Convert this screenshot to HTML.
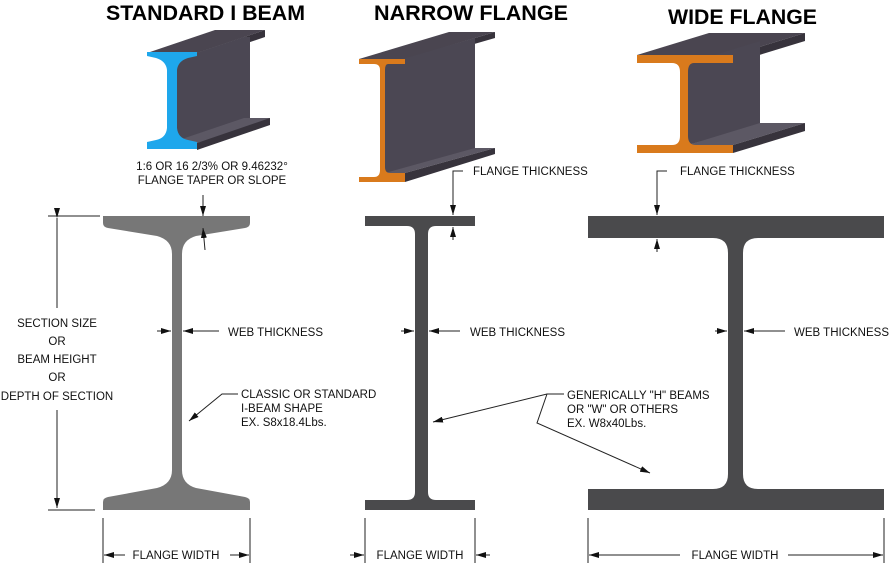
<!DOCTYPE html>
<html><head><style>html,body{margin:0;padding:0;background:#fff}svg{display:block}text{font-family:"Liberation Sans",sans-serif}</style></head><body>
<svg width="891" height="569" viewBox="0 0 891 569" xmlns="http://www.w3.org/2000/svg">
<defs>
<marker id="a" viewBox="0 0 10 6" refX="10" refY="3" markerWidth="10" markerHeight="6" orient="auto" markerUnits="userSpaceOnUse"><path d="M0,0 L10,3 L0,6 Z" fill="#111"/></marker>
</defs>
<g font-weight="bold" font-size="21" fill="#000">
<text x="106" y="20" textLength="199" lengthAdjust="spacingAndGlyphs">STANDARD I BEAM</text>
<text x="374" y="20" textLength="194" lengthAdjust="spacingAndGlyphs">NARROW FLANGE</text>
<text x="668" y="24" textLength="149" lengthAdjust="spacingAndGlyphs">WIDE FLANGE</text>
</g>
<!-- 3D standard -->
<g>
<polygon points="147,53 197,53 265,30 215,30" fill="#4a4550"/>
<polygon points="197,53 265,30 265,37 197,60" fill="#37333c"/>
<polygon points="176,60 244,37 250,37 250,118 182,141 176,141" fill="#4b4753"/>
<polygon points="176,141 244,118 270,118 265,124 197,143 176,143" fill="#5c5864"/>
<polygon points="197,143 270,118 270,125 197,150" fill="#37333c"/>
<path d="M147,52 H197 V56 L188,58 Q178,61 177,70 V128 Q178,138 188,140 L197,142 V149 H147 V142 L156,140 Q166,138 167,128 V70 Q166,61 156,58 L147,56 Z" fill="#1ea7ec"/>
</g>
<!-- 3D narrow -->
<g>
<polygon points="359,59 405,59 495,32 449,32" fill="#4a4550"/>
<polygon points="405,59 495,32 495,38 405,64" fill="#37333c"/>
<polygon points="385,64 475,38 475,152 385,176" fill="#4b4753"/>
<polygon points="385,173 475,148 495,148 405,173" fill="#5c5864"/>
<polygon points="405,173 495,148 495,154 405,182" fill="#37333c"/>
<path d="M359,59 H405 V64 H388 Q385,64 385,70 V167 Q385,173 390,173 H405 V182 H359 V177 H374 Q380,177 380,170 V70 Q380,64 374,64 H359 Z" fill="#d97a1c"/>
</g>
<!-- 3D wide -->
<g>
<polygon points="637,55 733,55 805,33 709,33" fill="#4a4550"/>
<polygon points="733,55 805,33 805,41 733,63" fill="#37333c"/>
<polygon points="688,63 760,41 760,125 688,145" fill="#4b4753"/>
<polygon points="688,145 733,145 805,123 760,123" fill="#5c5864"/>
<polygon points="733,145 805,123 805,131 733,153" fill="#37333c"/>
<path d="M637,55 H733 V63 H694 Q688,63 688,72 V136 Q688,145 696,145 H733 V153 H637 V145 H672 Q680,145 680,136 V72 Q680,63 672,63 H637 Z" fill="#d97a1c"/>
</g>
<!-- sections -->
<path d="M103,216 H250 V223 Q250,227 245,228 L196,236 Q182,240 182,254 V470 Q182,484 196,488 L245,497 Q250,498 250,502 V510 H103 V502 Q103,498 108,497 L157,488 Q172,484 172,470 V254 Q172,240 157,236 L108,228 Q103,227 103,223 Z" fill="#777"/>
<path d="M365,216 H475 V226 H436 Q428,226 428,234 V492 Q428,500 436,500 H475 V510 H365 V500 H407 Q415,500 415,492 V234 Q415,226 407,226 H365 Z" fill="#4a4a4c"/>
<path d="M588,216 H884 V238 H758 Q743,238 743,253 V474 Q743,489 758,489 H884 V510 H588 V489 H713 Q728,489 728,474 V253 Q728,238 713,238 H588 Z" fill="#4a4a4c"/>
<g stroke="#222" stroke-width="1" fill="none">
<line x1="48" y1="216" x2="100" y2="216"/><line x1="48" y1="510" x2="95" y2="510"/>
<line x1="57" y1="218" x2="57" y2="308" marker-start="url(#a)"/>
<line x1="57" y1="410" x2="57" y2="508" marker-end="url(#a)"/>
<line x1="203" y1="195" x2="203" y2="216" marker-end="url(#a)"/>
<line x1="205" y1="250" x2="203" y2="228" marker-end="url(#a)"/>
<polyline points="463,171 453,171 453,215" marker-end="url(#a)"/>
<line x1="453" y1="240" x2="453" y2="227" marker-end="url(#a)"/>
<polyline points="667,171 657,171 657,215" marker-end="url(#a)"/>
<line x1="657" y1="252" x2="657" y2="239" marker-end="url(#a)"/>
<line x1="157" y1="331" x2="171" y2="331" marker-end="url(#a)"/>
<line x1="219" y1="331" x2="183" y2="331" marker-end="url(#a)"/>
<line x1="401" y1="331" x2="414" y2="331" marker-end="url(#a)"/>
<line x1="460" y1="331" x2="429" y2="331" marker-end="url(#a)"/>
<line x1="715" y1="331" x2="727" y2="331" marker-end="url(#a)"/>
<line x1="785" y1="331" x2="744" y2="331" marker-end="url(#a)"/>
<polyline points="238,394 222,394 189,421" marker-end="url(#a)"/>
<polyline points="564,394 547,394 433,422" marker-end="url(#a)"/>
<polyline points="547,394 537,423 650,473" marker-end="url(#a)"/>
<line x1="103" y1="518" x2="103" y2="563"/><line x1="250" y1="518" x2="250" y2="563"/>
<line x1="125" y1="555" x2="104" y2="555" marker-end="url(#a)"/><line x1="230" y1="555" x2="249" y2="555" marker-end="url(#a)"/>
<line x1="365" y1="518" x2="365" y2="563"/><line x1="475" y1="518" x2="475" y2="563"/>
<line x1="350" y1="555" x2="364" y2="555" marker-end="url(#a)"/><line x1="490" y1="555" x2="476" y2="555" marker-end="url(#a)"/>
<line x1="588" y1="518" x2="588" y2="563"/><line x1="884" y1="518" x2="884" y2="563"/>
<line x1="680" y1="555" x2="589" y2="555" marker-end="url(#a)"/><line x1="788" y1="555" x2="883" y2="555" marker-end="url(#a)"/>
</g>
<g font-size="11.5" fill="#111">
<text x="212" y="170" text-anchor="middle">1:6  OR  16 2/3%  OR  9.46232°</text>
<text x="212" y="184" text-anchor="middle">FLANGE TAPER OR SLOPE</text>
<text x="473" y="175">FLANGE THICKNESS</text>
<text x="680" y="175">FLANGE THICKNESS</text>
<text x="228" y="336">WEB THICKNESS</text>
<text x="470" y="336">WEB THICKNESS</text>
<text x="794" y="336">WEB THICKNESS</text>
<g text-anchor="middle">
<text x="57" y="327">SECTION SIZE</text>
<text x="57" y="345">OR</text>
<text x="57" y="363">BEAM HEIGHT</text>
<text x="57" y="381">OR</text>
<text x="57" y="400">DEPTH OF SECTION</text>
<text x="176" y="559">FLANGE WIDTH</text>
<text x="420" y="559">FLANGE WIDTH</text>
<text x="735" y="559">FLANGE WIDTH</text>
</g>
<text x="241" y="398">CLASSIC OR STANDARD</text>
<text x="241" y="412">I-BEAM SHAPE</text>
<text x="241" y="426">EX. S8x18.4Lbs.</text>
<text x="567" y="399">GENERICALLY "H" BEAMS</text>
<text x="567" y="413">OR "W" OR OTHERS</text>
<text x="567" y="427">EX. W8x40Lbs.</text>
</g>
</svg>
</body></html>
